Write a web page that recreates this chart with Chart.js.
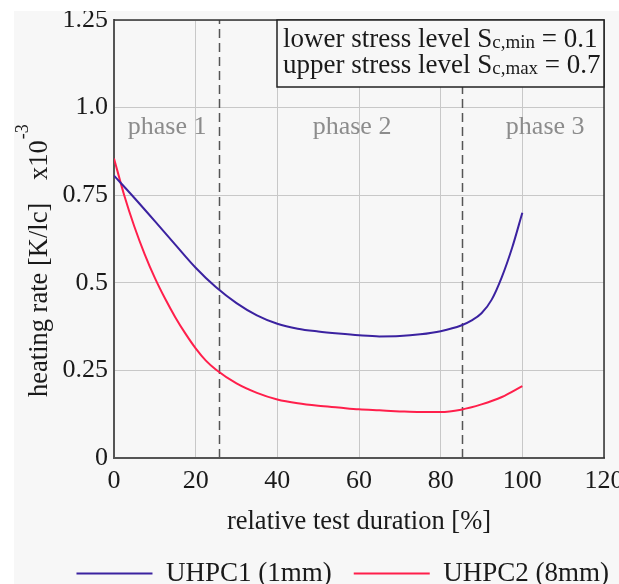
<!DOCTYPE html>
<html>
<head>
<meta charset="utf-8">
<script src="https://cdn.jsdelivr.net/npm/chart.js@4/dist/chart.umd.min.js"></script>
<style>
    html, body { margin: 0; padding: 0; background: #fff; overflow: hidden; }
    #wrap { position: absolute; left: 14px; top: 11px; width: 605px; height: 573px; overflow: hidden; background: #f7f7f7; }
    #wrap canvas { display: block; }
</style>
</head>
<body>
<div id="wrap"><canvas id="heatChart" width="619" height="586"></canvas></div>
<script>
        // Data
        const duration1 = [0, 5, 10, 15, 20, 25, 30, 35, 40, 45, 50, 55, 60, 65, 70, 75, 80, 85, 87.5, 90, 92.5, 95, 97.5, 100];
        const uhpc1 = [0.806, 0.742, 0.676, 0.609, 0.543, 0.487, 0.442, 0.407, 0.383, 0.369, 0.361, 0.355, 0.350, 0.347, 0.348, 0.353, 0.362, 0.378, 0.392, 0.413, 0.452, 0.517, 0.600, 0.70];
        const duration2 = [0, 2.5, 5, 7.5, 10, 12.5, 15, 17.5, 20, 22.5, 25, 30, 35, 40, 45, 50, 55, 60, 65, 70, 75, 80, 85, 90, 95, 100];
        const uhpc2 = [0.855, 0.750, 0.660, 0.582, 0.514, 0.455, 0.402, 0.355, 0.313, 0.278, 0.252, 0.213, 0.186, 0.167, 0.156, 0.149, 0.144, 0.139, 0.136, 0.133, 0.131, 0.131, 0.138, 0.153, 0.174, 0.205];
        const seriesNames = ['UHPC1 (1mm)', 'UHPC2 (8mm)'];
        const xTickLabels = ['0', '20', '40', '60', '80', '100', '120'];
        const yTickLabels = ['0', '0.25', '0.5', '0.75', '1.0', '1.25'];
        const phaseBounds = [25.8, 85.2];
        const phaseNames = ['phase 1', 'phase 2', 'phase 3'];
        const phaseLabelX = [13, 58.3, 105.6];
        const phaseLabelY = 0.945;
        const xTitle = 'relative test duration [%]';
        const yTitle = 'heating rate [K/lc]';

        const FONT = 'Liberation Serif';
        const tickFont = { family: FONT, size: 26 };
        const titleFont = { family: FONT, size: 26.5 };
        const legendFont = { family: FONT, size: 27 };
        const textColor = '#1a1a1a';

        // dashed phase borders + phase names
        const phasePlugin = {
            id: 'phases',
            beforeDatasetsDraw(chart) {
                const { ctx, chartArea, scales } = chart;
                ctx.save();
                ctx.strokeStyle = '#555';
                ctx.lineWidth = 1.5;
                ctx.setLineDash([9, 5]);
                phaseBounds.forEach(b => {
                    const px = Math.round(scales.x.getPixelForValue(b)) + 0.5;
                    ctx.beginPath();
                    ctx.moveTo(px, chartArea.bottom);
                    ctx.lineTo(px, chartArea.top);
                    ctx.stroke();
                });
                ctx.setLineDash([]);
                ctx.fillStyle = '#8c8c8c';
                ctx.font = '26px "' + FONT + '"';
                ctx.textAlign = 'center';
                ctx.textBaseline = 'middle';
                phaseNames.forEach((n, i) => {
                    ctx.fillText(n, scales.x.getPixelForValue(phaseLabelX[i]), scales.y.getPixelForValue(phaseLabelY));
                });
                ctx.restore();
            }
        };

        // frame, stress level box, y title with superscript
        const framePlugin = {
            id: 'frame',
            afterDatasetsDraw(chart) {
                const { ctx, chartArea } = chart;
                ctx.save();
                ctx.strokeStyle = '#333';
                ctx.lineWidth = 1.5;
                ctx.beginPath();
                ctx.moveTo(chartArea.left, chartArea.top);
                ctx.lineTo(chartArea.right, chartArea.top);
                ctx.lineTo(chartArea.right, chartArea.bottom);
                ctx.stroke();

                // stress level box
                const bx = 263, by = chartArea.top, bw = chartArea.right - 263, bh = 67;
                ctx.fillStyle = '#f7f7f7';
                ctx.fillRect(bx, by, bw, bh);
                ctx.strokeStyle = '#222';
                ctx.strokeRect(bx, by, bw, bh);
                const lines = [['lower stress level S', 'c,min', ' = 0.1'], ['upper stress level S', 'c,max', ' = 0.7']];
                ctx.fillStyle = textColor;
                ctx.textAlign = 'left';
                ctx.textBaseline = 'alphabetic';
                lines.forEach((l, i) => {
                    const y = 36 + i * 26;
                    let x = bx + 6;
                    ctx.font = '27px "' + FONT + '"';
                    ctx.fillText(l[0], x, y);
                    x += ctx.measureText(l[0]).width;
                    ctx.font = '19px "' + FONT + '"';
                    ctx.fillText(l[1], x, y + 1);
                    x += ctx.measureText(l[1]).width;
                    ctx.font = '27px "' + FONT + '"';
                    ctx.fillText(l[2], x, y);
                });
                ctx.restore();
            },
            afterDraw(chart) {
                const ctx = chart.ctx;
                ctx.save();
                ctx.translate(26, 386);
                ctx.rotate(-Math.PI / 2);
                ctx.fillStyle = textColor;
                ctx.textAlign = 'left';
                ctx.textBaseline = 'middle';
                ctx.font = '26.5px "' + FONT + '"';
                ctx.fillText(yTitle, 0, 0);
                ctx.fillText('x10', 217, 0);
                const w = ctx.measureText('x10').width;
                ctx.font = '18px "' + FONT + '"';
                ctx.fillText('-3', 217 + w + 1, -17);
                ctx.restore();
            }
        };

        const ctx = document.getElementById('heatChart').getContext('2d');
        new Chart(ctx, {
            type: 'line',
            data: {
                datasets: [{
                    label: seriesNames[0],
                    data: duration1.map((x, i) => ({ x: x, y: uhpc1[i] })),
                    borderColor: '#3b22a0',
                    backgroundColor: '#3b22a0',
                    borderWidth: 2,
                    pointRadius: 0,
                    cubicInterpolationMode: 'monotone'
                }, {
                    label: seriesNames[1],
                    data: duration2.map((x, i) => ({ x: x, y: uhpc2[i] })),
                    borderColor: '#ff1f4b',
                    backgroundColor: '#ff1f4b',
                    borderWidth: 2,
                    pointRadius: 0,
                    cubicInterpolationMode: 'monotone'
                }]
            },
            options: {
                responsive: false,
                animation: false,
                layout: { padding: { left: 0, right: 2, top: 9, bottom: 0 } },
                scales: {
                    x: {
                        type: 'linear',
                        min: 0,
                        max: 120,
                        ticks: {
                            stepSize: 20,
                            padding: 8,
                            font: tickFont,
                            color: textColor,
                            maxRotation: 0,
                            callback: (v, i) => xTickLabels[i]
                        },
                        grid: { color: '#c8c8c8', drawTicks: false },
                        border: { color: '#555', width: 2 },
                        title: { display: true, text: xTitle, font: titleFont, color: textColor, padding: { top: 0, bottom: 0 } },
                        afterFit: s => { s.paddingLeft = 0; s.paddingRight = 0; s.height = 80; }
                    },
                    y: {
                        min: 0,
                        max: 1.25,
                        ticks: {
                            stepSize: 0.25,
                            padding: 6,
                            font: tickFont,
                            color: textColor,
                            callback: (v, i) => yTickLabels[i]
                        },
                        grid: { color: '#c8c8c8', drawTicks: false },
                        border: { color: '#555', width: 2 },
                        afterFit: s => { s.width = 100; s.paddingTop = 0; s.paddingBottom = 0; }
                    },
                    // empty right axis, only reserves the space right of the plot
                    yRight: {
                        position: 'right',
                        min: 0,
                        max: 1.25,
                        ticks: { display: false },
                        grid: { display: false, drawTicks: false },
                        border: { display: false },
                        afterFit: s => { s.width = 27; s.paddingTop = 0; s.paddingBottom = 0; }
                    }
                },
                plugins: {
                    legend: {
                        position: 'bottom',
                        align: 'end',
                        labels: {
                            usePointStyle: true,
                            pointStyle: 'line',
                            pointStyleWidth: 76,
                            padding: 22,
                            color: textColor,
                            font: legendFont
                        }
                    },
                    tooltip: { enabled: false }
                }
            },
            plugins: [phasePlugin, framePlugin]
        });
</script>
</body>
</html>
